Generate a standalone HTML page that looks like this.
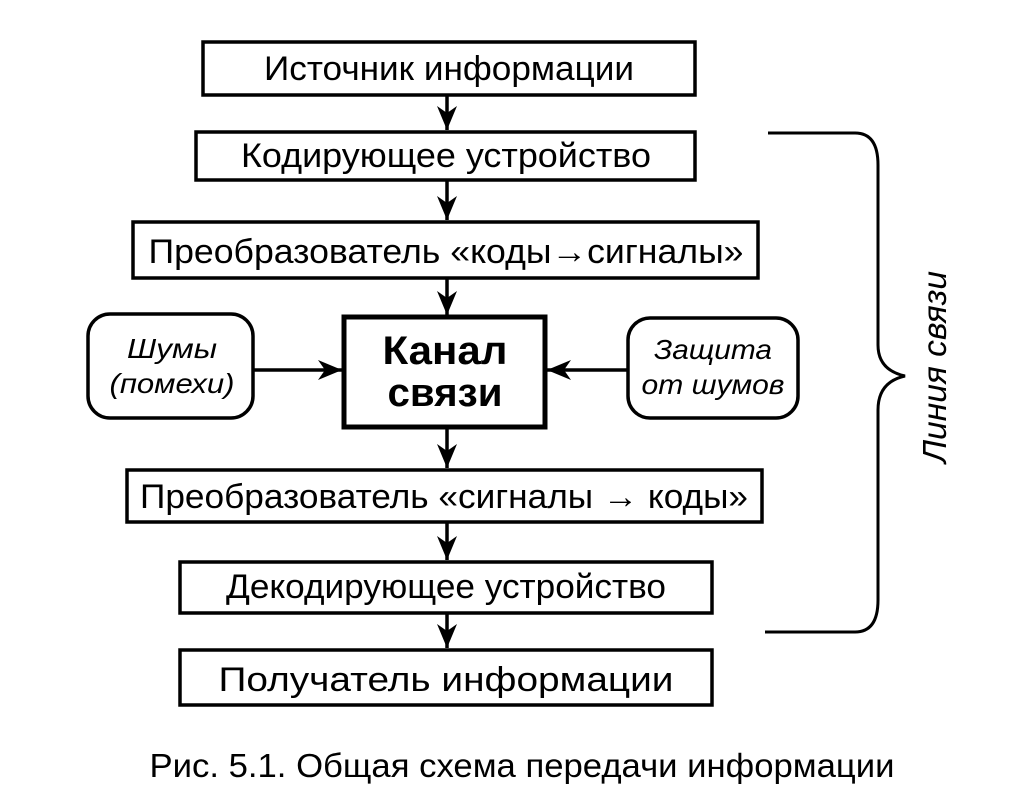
<!DOCTYPE html>
<html><head><meta charset="utf-8"><style>html,body{margin:0;padding:0;background:#fff}svg{display:block}</style></head>
<body>
<svg width="1015" height="802" viewBox="0 0 1015 802" xmlns="http://www.w3.org/2000/svg" font-family="Liberation Sans, DejaVu Sans, sans-serif">
<g fill="none" stroke="#000" stroke-width="3.5">
<rect x="203" y="42" width="492" height="53"/>
<rect x="196" y="132" width="499" height="48"/>
<rect x="133" y="222" width="625" height="56"/>
<rect x="344" y="317" width="201" height="110" stroke-width="5"/>
<rect x="88" y="314" width="165" height="104" rx="22"/>
<rect x="628" y="318" width="170" height="100" rx="22"/>
<rect x="127" y="470" width="635" height="52"/>
<rect x="180" y="562" width="532" height="51"/>
<rect x="180" y="650" width="532" height="55"/>
<path d="M768,133 L855,133 Q878,133 878,165 L878,345 Q878,370 905,376 Q878,382 878,410 L878,600 Q878,632 855,632 L765,632" stroke-width="3"/>
</g>
<g stroke="#000" stroke-width="3.5">
<line x1="447" y1="95" x2="447" y2="130"/>
<line x1="447" y1="180" x2="447" y2="220"/>
<line x1="447" y1="278" x2="447" y2="315"/>
<line x1="447" y1="427" x2="447" y2="468"/>
<line x1="447" y1="522" x2="447" y2="560"/>
<line x1="447" y1="613" x2="447" y2="648"/>
<line x1="253" y1="370" x2="342" y2="370"/>
<line x1="628" y1="370" x2="547" y2="370"/>
</g>
<g fill="#000">
<path d="M437,106 L447,130 L457,106 L447,113 Z"/>
<path d="M437,196 L447,220 L457,196 L447,203 Z"/>
<path d="M437,291 L447,315 L457,291 L447,298 Z"/>
<path d="M437,444 L447,468 L457,444 L447,451 Z"/>
<path d="M437,536 L447,560 L457,536 L447,543 Z"/>
<path d="M437,624 L447,648 L457,624 L447,631 Z"/>
<path d="M318,360 L342,370 L318,380 L325,370 Z"/>
<path d="M571,360 L547,370 L571,380 L564,370 Z"/>
</g>
<g font-size="34" fill="#000" text-anchor="middle">
<text x="449" y="80" textLength="370" lengthAdjust="spacingAndGlyphs">Источник информации</text>
<text x="446" y="167" textLength="410" lengthAdjust="spacingAndGlyphs">Кодирующее устройство</text>
<text x="446" y="263" textLength="595" lengthAdjust="spacingAndGlyphs">Преобразователь «коды→сигналы»</text>
<text x="444" y="508" textLength="608" lengthAdjust="spacingAndGlyphs">Преобразователь «сигналы → коды»</text>
<text x="446" y="598" textLength="440" lengthAdjust="spacingAndGlyphs">Декодирующее устройство</text>
<text x="446" y="691" textLength="455" lengthAdjust="spacingAndGlyphs">Получатель информации</text>
<text x="522" y="777" textLength="745" lengthAdjust="spacingAndGlyphs" font-size="33">Рис. 5.1. Общая схема передачи информации</text>
<text x="445" y="364" font-size="40" font-weight="bold" textLength="125" lengthAdjust="spacingAndGlyphs">Канал</text>
<text x="445" y="406" font-size="40" font-weight="bold" textLength="115" lengthAdjust="spacingAndGlyphs">связи</text>
<g font-style="italic" font-size="28">
<text x="172" y="358" textLength="90" lengthAdjust="spacingAndGlyphs">Шумы</text>
<text x="172" y="393" textLength="125" lengthAdjust="spacingAndGlyphs">(помехи)</text>
<text x="713" y="359" textLength="118" lengthAdjust="spacingAndGlyphs">Защита</text>
<text x="713" y="394" textLength="143" lengthAdjust="spacingAndGlyphs">от шумов</text>
<text transform="translate(946,367) rotate(-90)" font-size="33" textLength="192" lengthAdjust="spacingAndGlyphs">Линия связи</text>
</g>
</g>
</svg>
</body></html>
